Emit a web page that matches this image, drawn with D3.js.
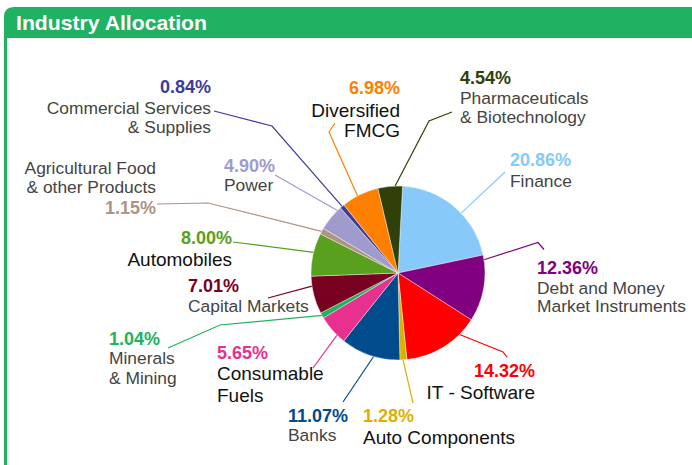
<!DOCTYPE html>
<html>
<head>
<meta charset="utf-8">
<script src="https://cdn.jsdelivr.net/npm/d3@7"></script>
<style>
  html, body { margin: 0; padding: 0; background: #fff; }
  svg { display: block; font-family: "Liberation Sans", Arial, Helvetica, sans-serif; }
</style>
</head>
<body>
<svg id="chart" width="692" height="465"></svg>
<script>
// ---- data ----
const categories = [
  "Finance", "Debt and Money Market Instruments", "IT - Software", "Auto Components",
  "Banks", "Consumable Fuels", "Minerals & Mining", "Capital Markets", "Automobiles",
  "Agricultural Food & other Products", "Power", "Commercial Services & Supplies",
  "Diversified FMCG", "Pharmaceuticals & Biotechnology"
];
const values = [20.86, 12.36, 14.32, 1.28, 11.07, 5.65, 1.04, 7.01, 8.00, 1.15, 4.90, 0.84, 6.98, 4.54];
const colors = ["#87cafa", "#800080", "#ff0000", "#dcb000", "#004b8c", "#e8308e", "#20b35c",
  "#780020", "#58a01e", "#ae9484", "#a09bcd", "#3c3c9a", "#ff8000", "#304008"];
const nameLines = [
  ["Finance"], ["Debt and Money", "Market Instruments"], ["IT - Software"], ["Auto Components"],
  ["Banks"], ["Consumable", "Fuels"], ["Minerals", "& Mining"], ["Capital Markets"], ["Automobiles"],
  ["Agricultural Food", "& other Products"], ["Power"], ["Commercial Services", "& Supplies"],
  ["Diversified", "FMCG"], ["Pharmaceuticals", "& Biotechnology"]
];
const title = "Industry Allocation";

// ---- layout (label placement) ----
const layout = [
  {anchor:"start", x:510, pctY:166, nameY:[187], dark:false, t:0.58, knees:[[505,172]]},
  {anchor:"start", x:537, pctY:273.5, nameY:[293.5, 312], dark:false, t:0.07, knees:[[544,249.5],[538,242.5]]},
  {anchor:"end", x:535, pctY:377, nameY:[399], dark:true, t:0.24, knees:[[507,357],[503,352]]},
  {anchor:"start", x:363, pctY:422, nameY:[443.5], dark:true, t:0.55, knees:[[413,403]]},
  {anchor:"start", x:288, pctY:422, nameY:[441], dark:false, t:0.44, knees:[[343,402]]},
  {anchor:"start", x:217, pctY:359, nameY:[380, 401.5], dark:true, t:0.29, knees:[[313,368]]},
  {anchor:"start", x:109, pctY:345, nameY:[364, 384], dark:false, t:0.5, knees:[[168,348],[220,325]]},
  {anchor:"start", x:188, pctY:291.5, nameY:[311.5], dark:false, t:0.74, knees:[[268,298]]},
  {anchor:"end", x:232, pctY:243.5, nameY:[265.5], dark:true, t:0.55, knees:[[233,242]]},
  {anchor:"end", x:156, pctY:214, nameY:[173.5, 193], dark:false, t:0.45, knees:[[157,204],[208,203]]},
  {anchor:"start", x:224, pctY:171.5, nameY:[191], dark:false, t:0.85, knees:[[275,175]]},
  {anchor:"end", x:211, pctY:92.5, nameY:[113.5, 133], dark:false, t:0.5, knees:[[214,111],[272,126]]},
  {anchor:"end", x:400, pctY:94, nameY:[117, 137], dark:true, t:0.43, knees:[[335,123],[329,132]]},
  {anchor:"start", x:460, pctY:83.5, nameY:[103.5, 123], dark:false, t:0.7, knees:[[452,112],[429,121]]}
];

const W = 692, H = 465;
const cx = 398, cy = 273, R = 87;
const startOffset = 3 * Math.PI / 180;
const green = "#21b163";

const svg = d3.select("#chart");

// ---- frame / header ----
svg.append("path")
  .attr("d", `M4,${H} L4,17 Q4,7 14,7 L${W},7 L${W},38 L4,38 Z`)
  .attr("fill", green);
svg.append("rect").attr("x", 4).attr("y", 20).attr("width", 3.2).attr("height", H - 20).attr("fill", green);
svg.append("text")
  .attr("x", 16).attr("y", 29.5)
  .attr("fill", "#fff")
  .attr("font-weight", "bold")
  .attr("font-size", 21)
  .attr("textLength", 191)
  .attr("lengthAdjust", "spacingAndGlyphs")
  .text(title);

// ---- pie ----
const data = categories.map((c, i) => ({name: c, value: values[i], color: colors[i], lay: layout[i], lines: nameLines[i]}));
const pie = d3.pie().sort(null).value(d => d.value)
  .startAngle(startOffset).endAngle(startOffset + 2 * Math.PI);
const arcs = pie(data);
const arc = d3.arc().innerRadius(0).outerRadius(R);

// leader lines (drawn beneath slices)
const lineG = svg.append("g");
arcs.forEach(a => {
  const L = a.data.lay;
  const ang = a.startAngle + L.t * (a.endAngle - a.startAngle);
  const edge = [cx + R * Math.sin(ang), cy - R * Math.cos(ang)];
  const pts = L.knees.concat([edge]);
  lineG.append("path")
    .attr("d", d3.line()(pts))
    .attr("fill", "none")
    .attr("stroke", a.data.color)
    .attr("stroke-width", 1.2);
});

const g = svg.append("g").attr("transform", `translate(${cx},${cy})`);
g.selectAll("path.slice").data(arcs).enter().append("path")
  .attr("class", "slice")
  .attr("d", arc)
  .attr("fill", d => d.data.color)
  .attr("stroke", "#fff")
  .attr("stroke-width", 0.4);

// ---- labels ----
const labG = svg.append("g");
arcs.forEach(a => {
  const d = a.data, L = d.lay;
  labG.append("text")
    .attr("x", L.x).attr("y", L.pctY)
    .attr("text-anchor", L.anchor)
    .attr("font-weight", "bold")
    .attr("font-size", 18)
    .attr("fill", d.color)
    .text(d3.format(".2f")(d.value) + "%");
  d.lines.forEach((ln, k) => {
    labG.append("text")
      .attr("x", L.x).attr("y", L.nameY[k])
      .attr("text-anchor", L.anchor)
      .attr("font-size", L.dark ? 19 : 17.4)
      .attr("fill", L.dark ? "#111" : "#444")
      .text(ln);
  });
});
</script>
</body>
</html>
